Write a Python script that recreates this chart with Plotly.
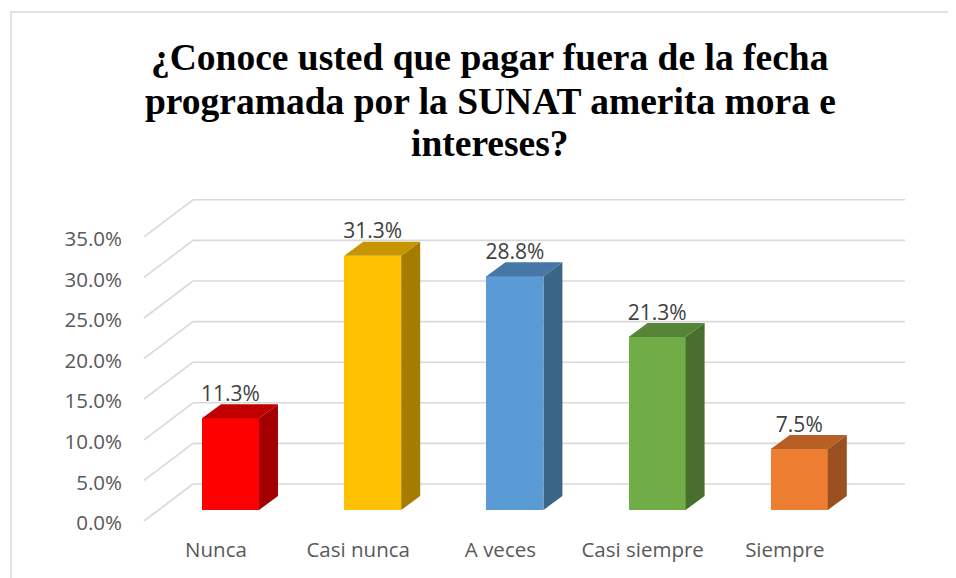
import plotly.graph_objects as go

categories = ["Nunca", "Casi nunca", "A veces", "Casi siempre", "Siempre"]
values = [11.3, 31.3, 28.8, 21.3, 7.5]
labels = ["11.3%", "31.3%", "28.8%", "21.3%", "7.5%"]
front_colors = ["#FF0000", "#FFC000", "#5B9BD5", "#70AD47", "#ED7D31"]
side_colors = ["#A50000", "#A67C00", "#3A6587", "#496F2E", "#9A5020"]
top_colors = ["#C00000", "#C69500", "#4677A6", "#56853A", "#B85F26"]
y_ticks = [0, 5, 10, 15, 20, 25, 30, 35]
y_tick_text = ["0.0%", "5.0%", "10.0%", "15.0%", "20.0%", "25.0%", "30.0%", "35.0%"]
title_lines = ["¿Conoce usted que pagar fuera de la fecha",
               "programada por la SUNAT amerita mora e",
               "intereses?"]

# the page body has an 8px margin; the figure starts at (8, 8) on screen
OFF = 8
W, H = 956 - OFF, 578 - OFF
# plot area in screen pixels
PL, PR, PT, PB = 127, 956, 8, 535
L, R, T, B = PL - OFF, 956 - PR, PT - OFF, 578 - PB

px_per_cat = 142.2
px_per_pct = 8.12
x0_px = 230.5   # screen x of front center of first bar
y0_px = 510.0   # screen y of bar baseline
def xr(px):
    return (px - x0_px) / px_per_cat
def yr(py):
    return (y0_px - py) / px_per_pct
def paper_x(px):
    return (px - PL) / (PR - PL)
def paper_y(py):
    return (PB - py) / (PB - PT)

bar_w = 57 / px_per_cat
ddx = 19 / px_per_cat
ddy = 14 / px_per_pct
wall_dx = 49 / px_per_cat
wall_dy = 37 / px_per_pct
floor_front_y = yr(521)
grid_left = xr(144)
grid_right = xr(905)

fig = go.Figure()

# gridlines: diagonal (side wall) + horizontal (back wall), drawn below the bars
shapes = []
for t in y_ticks:
    yf = floor_front_y + t
    shapes.append(dict(type="line", xref="x", yref="y", layer="below",
                       x0=grid_left, y0=yf, x1=grid_left + wall_dx, y1=yf + wall_dy,
                       line=dict(color="#D9D9D9", width=1.6)))
    shapes.append(dict(type="line", xref="x", yref="y", layer="below",
                       x0=grid_left + wall_dx, y0=yf + wall_dy, x1=grid_right, y1=yf + wall_dy,
                       line=dict(color="#D9D9D9", width=1.6)))
# chart border
shapes.append(dict(type="rect", xref="paper", yref="paper", layer="below",
                   x0=paper_x(11), x1=paper_x(980), y0=paper_y(600), y1=paper_y(12),
                   line=dict(color="#D9D9D9", width=1.5)))

# front faces
xs = list(range(len(categories)))
fig.add_trace(go.Bar(x=xs, y=values, width=bar_w,
                     marker=dict(color=front_colors, line=dict(width=0)),
                     showlegend=False, hoverinfo="skip"))

# side and top faces
for i, v in enumerate(values):
    xl = i - bar_w / 2
    xrt = i + bar_w / 2
    fig.add_trace(go.Scatter(
        x=[xrt, xrt + ddx, xrt + ddx, xrt, xrt],
        y=[0, ddy, v + ddy, v, 0],
        fill="toself", fillcolor=side_colors[i], mode="lines",
        line=dict(width=0, color=side_colors[i]), hoverinfo="skip", showlegend=False))
    fig.add_trace(go.Scatter(
        x=[xl, xl + ddx, xrt + ddx, xrt, xl],
        y=[v, v + ddy, v + ddy, v, v],
        fill="toself", fillcolor=top_colors[i], mode="lines",
        line=dict(width=0, color=top_colors[i]), hoverinfo="skip", showlegend=False))

# data labels
fig.add_trace(go.Scatter(x=xs, y=[v + 2.8 for v in values], mode="text",
                         text=labels, textposition="middle center",
                         textfont=dict(family="Open Sans", size=21, color="#404040"),
                         hoverinfo="skip", showlegend=False))

title_y = [58, 101, 143]
annotations = [dict(
    text="<b>" + line + "</b>",
    xref="paper", yref="paper",
    x=paper_x(490), y=paper_y(yc),
    xanchor="center", yanchor="middle", showarrow=False,
    font=dict(family="Liberation Serif, Times New Roman, serif", size=37.5, color="black"))
    for line, yc in zip(title_lines, title_y)]

fig.update_layout(
    width=W, height=H,
    margin=dict(l=L, r=R, t=T, b=B),
    paper_bgcolor="white", plot_bgcolor="white",
    bargap=0,
    xaxis=dict(range=[xr(PL), xr(PR)], showgrid=False, zeroline=False,
               showline=False, ticks="",
               tickvals=[i - 0.102 for i in xs], ticktext=categories,
               tickfont=dict(family="Open Sans", size=20.5, color="#595959")),
    yaxis=dict(range=[yr(PB), yr(PT)], showgrid=False, zeroline=False,
               showline=False, ticks="", ticklabelstandoff=4,
               tickvals=[floor_front_y + t - 0.25 for t in y_ticks], ticktext=y_tick_text,
               tickfont=dict(family="Open Sans", size=20.5, color="#595959")),
    annotations=annotations,
    shapes=shapes,
)

fig.write_html("out.html")
